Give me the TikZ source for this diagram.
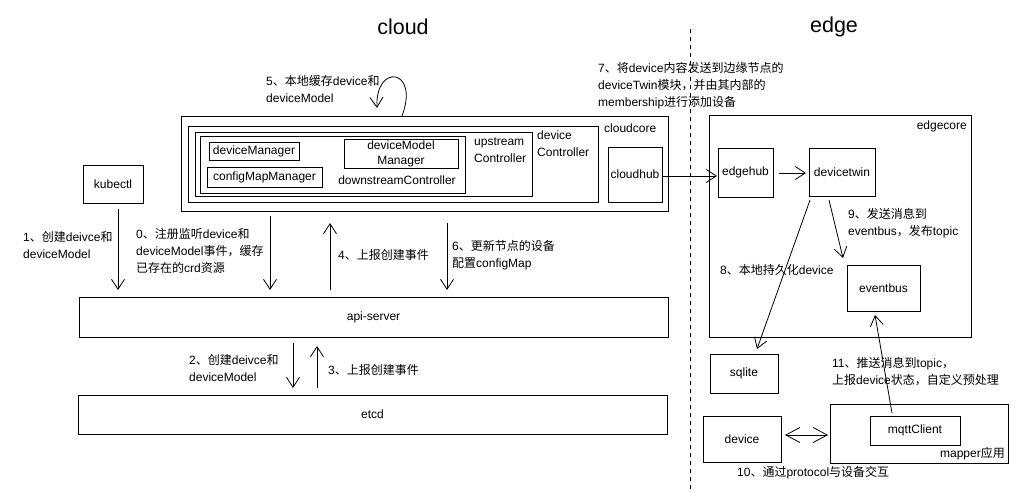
\documentclass[tikz,border=0pt]{standalone}
\usepackage{fontspec}
\setmainfont{Liberation Sans}
\newfontfamily\zhfont{Noto Sans CJK SC}
\newcommand{\zh}[1]{{\zhfont #1}}
\usetikzlibrary{arrows.meta,calc}
\begin{document}
\begin{tikzpicture}[x=1pt,y=-1pt,
  every node/.style={font=\fontsize{12}{17}\selectfont},
  box/.style={draw, line width=0.8pt, rectangle, inner sep=0pt, outer sep=0pt, align=center},
  lbl/.style={anchor=west, align=left, inner sep=0pt},
  rlbl/.style={anchor=east, align=right, inner sep=0pt},
  title/.style={font=\fontsize{21.5}{26}\selectfont, inner sep=0pt},
  arr/.style={line width=0.8pt, -{Straight Barb[length=10pt,width=13pt,line width=0.8pt]}},
  darr/.style={line width=0.8pt, {Straight Barb[length=14pt,width=15pt,line width=0.8pt]}-{Straight Barb[length=14pt,width=15pt,line width=0.8pt]}},
  divider/.style={line width=0.8pt, dash pattern=on 4pt off 4pt}
]
\useasboundingbox (0,0) rectangle (1018,491);

% titles and divider
\node[title] (tcloud) at (403,27) {cloud};
\node[title] (tedge) at (834,27) {edge};
\coordinate (dtop) at (690,29);
\coordinate (dbot) at (690,491);
\draw[divider] (dtop) -- (dbot);

% cloud side boxes
\node[box, minimum width=487pt, minimum height=95pt] (cloudcore) at (424.5,163.5) {};
\node[lbl] (lcloudcore) at (604,128) {cloudcore};
\node[box, minimum width=410pt, minimum height=76pt] (devctl) at (393,164) {};
\node[lbl] (ldevctl) at (537,144) {device\\Controller};
\node[box, minimum width=337pt, minimum height=64pt] (upctl) at (363.5,164) {};
\node[lbl] (lupctl) at (474,150) {upstream\\Controller};
\node[box, minimum width=265pt, minimum height=57pt] (downctl) at (332.5,164.5) {};
\node (ldownctl) at (397,180) {downstreamController};
\node[box, minimum width=90pt, minimum height=18pt] (devmgr) at (254,151) {deviceManager};
\node[box, minimum width=115pt, minimum height=20pt] (cfgmgr) at (264.5,177) {configMapManager};
\node[box, minimum width=114pt, minimum height=29pt, font=\fontsize{12}{15}\selectfont] (dmmgr) at (401,153.5) {deviceModel\\Manager};
\node[box, minimum width=54pt, minimum height=55pt] (cloudhub) at (635,174.5) {cloudhub};

\node[box, minimum width=60pt, minimum height=38pt] (kubectl) at (113,184) {kubectl};
\node[box, minimum width=589pt, minimum height=40pt] (api) at (373.5,317) {api-server};
\node[box, minimum width=589pt, minimum height=39pt] (etcd) at (372.5,414.5) {etcd};

% edge side boxes
\node[box, minimum width=262pt, minimum height=222pt] (edgecore) at (840,226) {};
\node[rlbl] (ledgecore) at (967,126) {edgecore};
\node[box, minimum width=55pt, minimum height=49pt] (edgehub) at (745.5,172.5) {edgehub};
\node[box, minimum width=66pt, minimum height=48pt] (devicetwin) at (842,172) {devicetwin};
\node[box, minimum width=73pt, minimum height=46pt] (eventbus) at (883.5,288) {eventbus};
\node[box, minimum width=68pt, minimum height=39pt] (sqlite) at (744,373.5) {sqlite};
\node[box, minimum width=178pt, minimum height=59pt] (mapper) at (919,433.5) {};
\node[rlbl] (lmapper) at (1005,454) {mapper\zh{应用}};
\node[box, minimum width=90pt, minimum height=29pt] (mqtt) at (915,430.5) {mqttClient};
\node[box, minimum width=78pt, minimum height=46pt] (device) at (742,439) {device};

% columns / rows for connectors
\coordinate (x1) at (118,0);
\coordinate (x0) at (270,0);
\coordinate (x4) at (330,0);
\coordinate (x6) at (447,0);
\coordinate (x2) at (293,0);
\coordinate (x3) at (317,0);
\coordinate (x5) at (402,0);
\coordinate (ych) at (0,176);
\coordinate (yeh) at (0,173);
\coordinate (ydev) at (0,435);

% cloud connectors
\draw[arr] ($(kubectl.south -| x1)+(0,6)$) -- ($(api.north -| x1)+(0,-7)$);
\draw[arr] ($(cloudcore.south -| x0)+(0,5)$) -- ($(api.north -| x0)+(0,-7)$);
\draw[arr] ($(api.north -| x4)+(0,-7)$) -- ($(cloudcore.south -| x4)+(0,12)$);
\draw[arr] ($(cloudcore.south -| x6)+(0,12)$) -- ($(api.north -| x6)+(0,-7)$);
\draw[arr] ($(api.south -| x2)+(0,6)$) -- ($(etcd.north -| x2)+(0,-7)$);
\draw[arr] ($(etcd.north -| x3)+(0,-7)$) -- ($(api.south -| x3)+(0,9)$);
\coordinate (loopend) at (377,108);
\draw[arr] (cloudcore.north -| x5) .. controls (420,68) and (375,63) .. (loopend);

% cloud to edge
\draw[arr] (cloudhub.east |- ych) -- ($(edgehub.west |- ych)+(-1,0)$);
\draw[arr] ($(edgehub.east |- yeh)+(6,0)$) -- ($(devicetwin.west |- yeh)+(-3,0)$);
\draw[arr] ($(devicetwin.south west)+(1,4)$) -- ($(sqlite.north west)+(47,-5)$);
\draw[arr] ($(devicetwin.south)+(-13,4)$) -- ($(eventbus.north west)+(-4,-7)$);
\draw[arr] ($(mqtt.north)+(-23,-3)$) -- ($(eventbus.south)+(-8.5,4)$);
\draw[darr] ($(device.east |- ydev)+(4,0)$) -- ($(mapper.west |- ydev)+(-2,0)$);

% labels
\node[lbl] (l1) at (23,245) {1\zh{、创建}deivce\zh{和}\\deviceModel};
\node[lbl] (l0) at (136,250.5) {0\zh{、注册监听}device\zh{和}\\deviceModel\zh{事件，缓存}\\\zh{已存在的}crd\zh{资源}};
\node[lbl] (l4) at (338,255) {4\zh{、上报创建事件}};
\node[lbl] (l6) at (452,255) {6\zh{、更新节点的设备}\\\zh{配置}configMap};
\node[lbl] (l5) at (266,89.5) {5\zh{、本地缓存}device\zh{和}\\deviceModel};
\node[lbl] (l7) at (598,86) {7\zh{、将}device\zh{内容发送到边缘节点的}\\deviceTwin\zh{模块，并由其内部的}\\membership\zh{进行添加设备}};
\node[lbl] (l2) at (189,368.5) {2\zh{、创建}deivce\zh{和}\\deviceModel};
\node[lbl] (l3) at (328,370) {3\zh{、上报创建事件}};
\node[lbl] (l8) at (720,270) {8\zh{、本地持久化}device};
\node[lbl] (l9) at (848,223) {9\zh{、发送消息到}\\eventbus\zh{，发布}topic};
\node[lbl] (l11) at (832,371.5) {11\zh{、推送消息到}topic\zh{，}\\\zh{上报}device\zh{状态，自定义预处理}};
\node[lbl] (l10) at (737,473) {10\zh{、通过}protocol\zh{与设备交互}};
\end{tikzpicture}
\end{document}
